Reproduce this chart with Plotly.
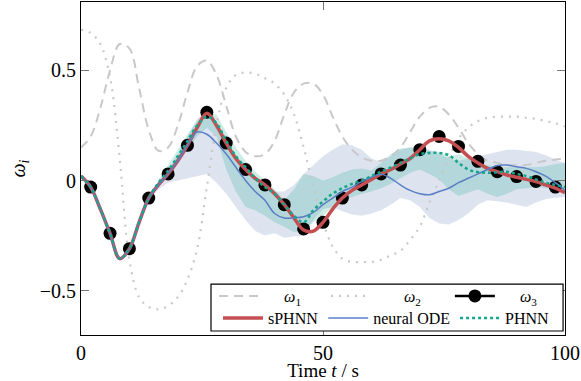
import plotly.graph_objects as go

# ---------------- data ----------------
t_line = list(range(0, 101, 2))

sphnn = [0.02, -0.03, -0.13, -0.24, -0.355, -0.31, -0.19, -0.08, -0.02, 0.03,
         0.09, 0.16, 0.24, 0.305, 0.25, 0.17, 0.10, 0.05, 0.01, -0.02,
         -0.06, -0.11, -0.17, -0.225, -0.23, -0.19, -0.13, -0.08, -0.045, -0.02,
         0.005, 0.03, 0.05, 0.075, 0.10, 0.14, 0.18, 0.19, 0.18, 0.15,
         0.11, 0.08, 0.055, 0.04, 0.025, 0.015, 0.005, -0.005, -0.02, -0.035, -0.055]

neural_ode = [0.02, -0.03, -0.13, -0.24, -0.355, -0.31, -0.19, -0.08, -0.02, 0.03,
              0.09, 0.16, 0.22, 0.21, 0.17, 0.12, 0.06, 0.0, -0.05, -0.09,
              -0.15, -0.17, -0.17, -0.165, -0.145, -0.11, -0.08, -0.05, -0.03, -0.005,
              0.015, 0.028, 0.01, -0.02, -0.045, -0.06, -0.065, -0.05, -0.035, -0.01,
              0.01, 0.03, 0.05, 0.068, 0.07, 0.062, 0.055, 0.04, 0.02, -0.01, -0.045]

phnn = [0.02, -0.03, -0.13, -0.24, -0.355, -0.31, -0.19, -0.08, -0.01, 0.045,
        0.11, 0.18, 0.25, 0.29, 0.26, 0.18, 0.11, 0.06, 0.01, -0.03,
        -0.06, -0.11, -0.16, -0.19, -0.135, -0.095, -0.06, -0.035, -0.015, 0.0,
        0.02, 0.04, 0.06, 0.08, 0.10, 0.12, 0.125, 0.125, 0.115, 0.08,
        0.05, 0.038, 0.035, 0.038, 0.04, 0.03, 0.02, 0.005, -0.01, -0.02, -0.03]

t_band = list(range(14, 101, 2))

node_upper = [-0.08, -0.01, 0.05, 0.12, 0.20, 0.28, 0.32, 0.25, 0.17, 0.10,
              0.05, 0.01, -0.02, -0.05, -0.05, -0.02, 0.03, 0.07, 0.11, 0.14,
              0.165, 0.16, 0.14, 0.10, 0.085, 0.11, 0.14, 0.15, 0.155, 0.14,
              0.12, 0.10, 0.09, 0.10, 0.11, 0.12, 0.13, 0.14, 0.14, 0.135,
              0.13, 0.115, 0.095, 0.08]
node_lower = [-0.09, -0.04, -0.01, 0.0, 0.01, 0.02, 0.03, -0.01, -0.06, -0.12,
              -0.18, -0.23, -0.25, -0.24, -0.26, -0.255, -0.25, -0.18, -0.13, -0.12,
              -0.14, -0.155, -0.16, -0.15, -0.135, -0.11, -0.08, -0.09, -0.12, -0.17,
              -0.195, -0.20, -0.18, -0.15, -0.11, -0.09, -0.095, -0.10, -0.11, -0.12,
              -0.10, -0.085, -0.078, -0.075]

phnn_upper = [-0.08, 0.0, 0.07, 0.14, 0.21, 0.27, 0.31, 0.30, 0.22, 0.15,
              0.09, 0.04, 0.0, -0.04, -0.09, -0.04, 0.03, 0.02, 0.0, 0.015,
              0.035, 0.05, 0.055, 0.045, 0.08, 0.12, 0.145, 0.15, 0.14, 0.135,
              0.13, 0.11, 0.12, 0.10, 0.08, 0.07, 0.06, 0.06, 0.06, 0.06,
              0.06, 0.065, 0.075, 0.08]
phnn_lower = [-0.085, -0.03, 0.02, 0.08, 0.14, 0.20, 0.24, 0.20, 0.05, -0.05,
              -0.12, -0.135, -0.16, -0.19, -0.21, -0.235, -0.225, -0.19, -0.16, -0.12,
              -0.09, -0.075, -0.06, -0.05, -0.035, -0.015, 0.01, 0.035, 0.05, 0.03,
              0.005, -0.04, -0.07, -0.055, -0.04, -0.06, -0.075, -0.06, -0.04, -0.035,
              -0.03, -0.035, -0.04, -0.04]

omega1 = [0.15, 0.20, 0.33, 0.50, 0.62, 0.60, 0.42, 0.23, 0.135, 0.15,
          0.25, 0.40, 0.52, 0.545, 0.48, 0.34, 0.20, 0.13, 0.11, 0.12,
          0.18, 0.30, 0.40, 0.44, 0.44, 0.39, 0.29, 0.20, 0.14, 0.105,
          0.09, 0.09, 0.11, 0.15, 0.22, 0.29, 0.33, 0.335, 0.30, 0.24,
          0.17, 0.12, 0.09, 0.08, 0.07, 0.07, 0.07, 0.08, 0.09, 0.095, 0.10]

omega2 = [0.685, 0.67, 0.62, 0.47, 0.10, -0.36, -0.53, -0.575, -0.585, -0.57,
          -0.53, -0.45, -0.31, -0.03, 0.25, 0.42, 0.48, 0.49, 0.485, 0.465,
          0.44, 0.39, 0.30, 0.15, -0.03, -0.19, -0.30, -0.355, -0.37, -0.37,
          -0.37, -0.36, -0.34, -0.32, -0.27, -0.21, -0.10, 0.0, 0.10, 0.19,
          0.24, 0.27, 0.285, 0.29, 0.29, 0.29, 0.285, 0.28, 0.27, 0.26, 0.245]

t_marker = list(range(2, 99, 4))
omega3 = [-0.03, -0.24, -0.31, -0.08, 0.03, 0.16, 0.31, 0.17, 0.05, -0.02,
          -0.11, -0.22, -0.19, -0.08, -0.02, 0.03, 0.07, 0.14, 0.20, 0.155,
          0.087, 0.04, 0.018, -0.004, -0.03]

# ---------------- styling ----------------
RED = "#c44e52"
BLUE = "#5b7fc4"
TEAL = "#14a58c"
GRAY = "#c8c8c8"
FONT = "Liberation Serif"
NB = "\u00a0"

fig = go.Figure()

# bands
fig.add_trace(go.Scatter(x=t_band, y=node_lower, mode="lines", line=dict(width=0),
                         showlegend=False, hoverinfo="skip"))
fig.add_trace(go.Scatter(x=t_band, y=node_upper, mode="lines", line=dict(width=0),
                         fill="tonexty", fillcolor="rgba(76,114,176,0.19)",
                         showlegend=False, hoverinfo="skip"))
fig.add_trace(go.Scatter(x=t_band, y=phnn_lower, mode="lines", line=dict(width=0),
                         showlegend=False, hoverinfo="skip"))
fig.add_trace(go.Scatter(x=t_band, y=phnn_upper, mode="lines", line=dict(width=0),
                         fill="tonexty", fillcolor="rgba(30,170,140,0.22)",
                         showlegend=False, hoverinfo="skip"))

# gray reference curves
fig.add_trace(go.Scatter(x=t_line, y=omega1, mode="lines",
                         name=NB * 5 + "<i>ω</i><sub>1</sub>" + NB * 5,
                         line=dict(color=GRAY, width=2, dash="9px,6px", shape="spline"),
                         legend="legend"))
fig.add_trace(go.Scatter(x=t_line, y=omega2, mode="lines",
                         name=NB * 7 + "<i>ω</i><sub>2</sub>" + NB * 6,
                         line=dict(color=GRAY, width=2.2, dash="2px,6px", shape="spline"),
                         legend="legend"))

# ground truth markers
fig.add_trace(go.Scatter(x=t_marker, y=omega3, mode="markers", showlegend=False,
                         marker=dict(color="black", size=13)))
fig.add_trace(go.Scatter(x=[None], y=[None], mode="lines+markers",
                         name=NB * 5 + "<i>ω</i><sub>3</sub>",
                         line=dict(color="black", width=2.5),
                         marker=dict(color="black", size=13), legend="legend"))

# models
fig.add_trace(go.Scatter(x=t_line, y=sphnn, mode="lines", name="sPHNN",
                         line=dict(color=RED, width=3.5, shape="spline"), legend="legend2"))
fig.add_trace(go.Scatter(x=t_line, y=neural_ode, mode="lines", name="neural ODE",
                         line=dict(color=BLUE, width=1.5, shape="spline"), legend="legend2"))
fig.add_trace(go.Scatter(x=t_line, y=phnn, mode="lines", name="PHNN",
                         line=dict(color=TEAL, width=2.5, dash="3px,3px", shape="spline"),
                         legend="legend2"))

axis_common = dict(showline=True, linecolor="black", linewidth=1, mirror="ticks",
                   ticks="inside", ticklen=8, tickcolor="#777", tickwidth=1,
                   showgrid=False, zeroline=False, automargin=False,
                   tickfont=dict(family=FONT, size=20, color="black"))

fig.update_layout(
    width=581, height=381,
    margin=dict(l=81, r=16, t=2, b=46),
    plot_bgcolor="white", paper_bgcolor="white",
    font=dict(family=FONT, size=16, color="black"),
    xaxis=dict(range=[0, 100], tickvals=[0, 50, 100], ticktext=["0", "50", "100"],
               title=dict(text="Time <i>t</i> / s", font=dict(family=FONT, size=19), standoff=1),
               **axis_common),
    yaxis=dict(range=[-0.702, 0.811], tickvals=[-0.5, 0, 0.5], ticktext=["−0.5", "0", "0.5"],
               title=dict(text="<i>ω<sub>i</sub></i>", font=dict(family=FONT, size=20), standoff=8),
               **axis_common),
    legend=dict(orientation="h", x=0.275, y=0.117, xanchor="left", yanchor="middle",
                traceorder="normal",
                bgcolor="rgba(0,0,0,0)", borderwidth=0, itemwidth=40,
                font=dict(family=FONT, size=16)),
    legend2=dict(orientation="h", x=0.283, y=0.051, xanchor="left", yanchor="middle",
                 traceorder="normal",
                 bgcolor="rgba(0,0,0,0)", borderwidth=0, itemwidth=40,
                 font=dict(family=FONT, size=16)),
    shapes=[dict(type="rect", xref="paper", yref="paper", x0=0.2686, x1=0.996,
                 y0=0.012, y1=0.153, line=dict(color="black", width=1.2),
                 fillcolor="white", layer="above")],
)

fig.write_html("out.html", post_script="document.body.style.margin='0';",
               config={"displayModeBar": False})
